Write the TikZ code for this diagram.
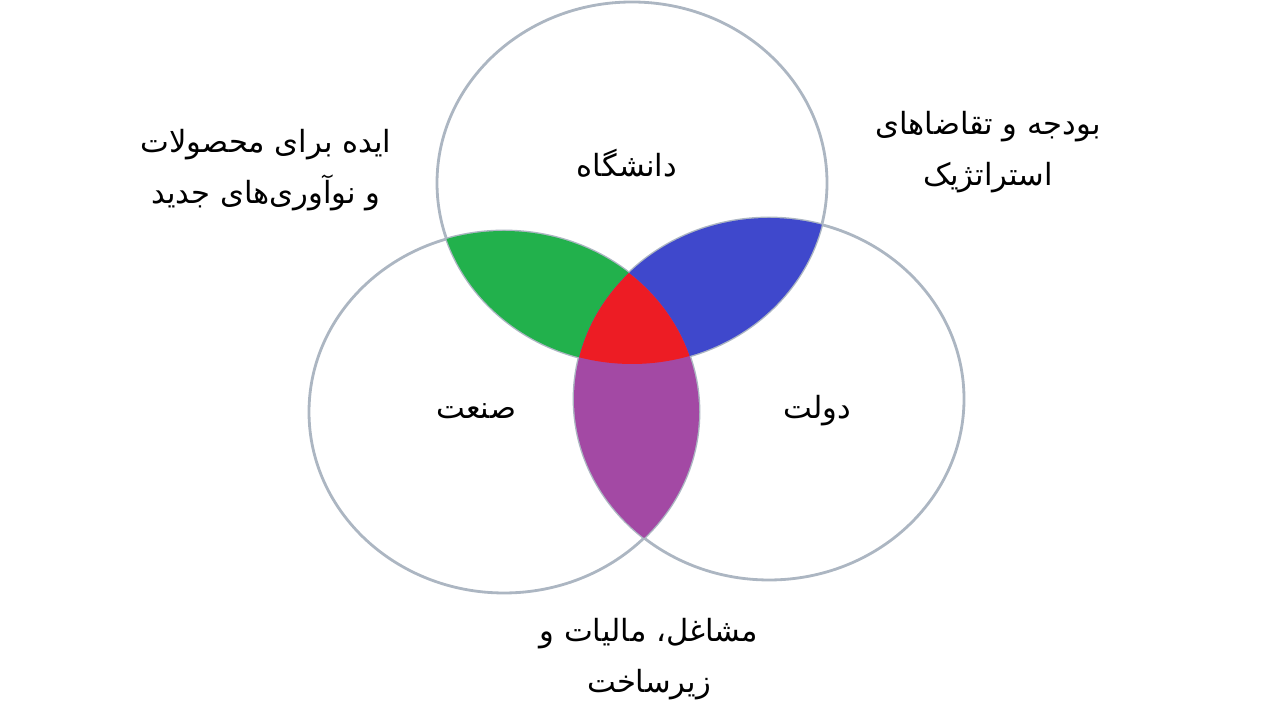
\documentclass[tikz,border=0pt]{standalone}
\usepackage{fontspec}
\newfontfamily\farsi[Script=Arabic]{DejaVu Sans}
\TeXXeTstate=1
\definecolor{ringgray}{RGB}{172,182,194}
\definecolor{venngreen}{HTML}{22B14C}
\definecolor{vennblue}{HTML}{3F48CC}
\definecolor{vennred}{HTML}{ED1C24}
\definecolor{vennpurple}{HTML}{A349A4}

\begin{document}
\begin{tikzpicture}[
    ring/.style={draw=ringgray, line width=0.8pt},
    fatext/.style={font=\farsi\fontsize{8.7pt}{14.4pt}\selectfont, align=center, inner sep=0pt}
  ]
  \useasboundingbox (0,0) rectangle (12.8,7.2);

  % 圆心与半径
  \coordinate (U) at (6.32,5.37); % 大学
  \coordinate (I) at (5.04,3.08); % 工业
  \coordinate (G) at (7.69,3.21); % 政府
  \pgfmathsetmacro{\rX}{1.95}
  \pgfmathsetmacro{\rY}{1.81}

  % 三个圆
  \draw[ring] (U) ellipse [x radius=\rX, y radius=\rY];
  \draw[ring] (I) ellipse [x radius=\rX, y radius=\rY];
  \draw[ring] (G) ellipse [x radius=\rX, y radius=\rY];

  % 两两相交部分
  \begin{scope}
    \clip (U) ellipse [x radius=\rX, y radius=\rY];
    \fill[venngreen] (I) ellipse [x radius=\rX, y radius=\rY];
    \fill[vennblue] (G) ellipse [x radius=\rX, y radius=\rY];
  \end{scope}
  \begin{scope}
    \clip (I) ellipse [x radius=\rX, y radius=\rY];
    \fill[vennpurple] (G) ellipse [x radius=\rX, y radius=\rY];
    % 三者相交
    \clip (U) ellipse [x radius=\rX, y radius=\rY];
    \fill[vennred] (G) ellipse [x radius=\rX, y radius=\rY];
  \end{scope}

  % 圆内标注
  \node[fatext] (uni) at (6.27,5.57) {\beginR دانشگاه\endR};
  \node[fatext] (ind) at (4.76,3.09) {\beginR صنعت\endR};
  \node[fatext] (gov) at (8.17,3.09) {\beginR دولت\endR};

  % 圆外标注
  \node[fatext] (ideas) at (2.66,5.50) {\beginR ایده برای محصولات\endR\\\beginR و نوآوری‌های جدید\endR};
  \node[fatext] (budget) at (9.88,5.68) {\beginR بودجه و تقاضاهای\endR\\\beginR استراتژیک\endR};
  \node[fatext] (jobs) at (6.49,0.61) {\beginR مشاغل، مالیات و\endR\\\beginR زیرساخت\endR};
\end{tikzpicture}
\end{document}
